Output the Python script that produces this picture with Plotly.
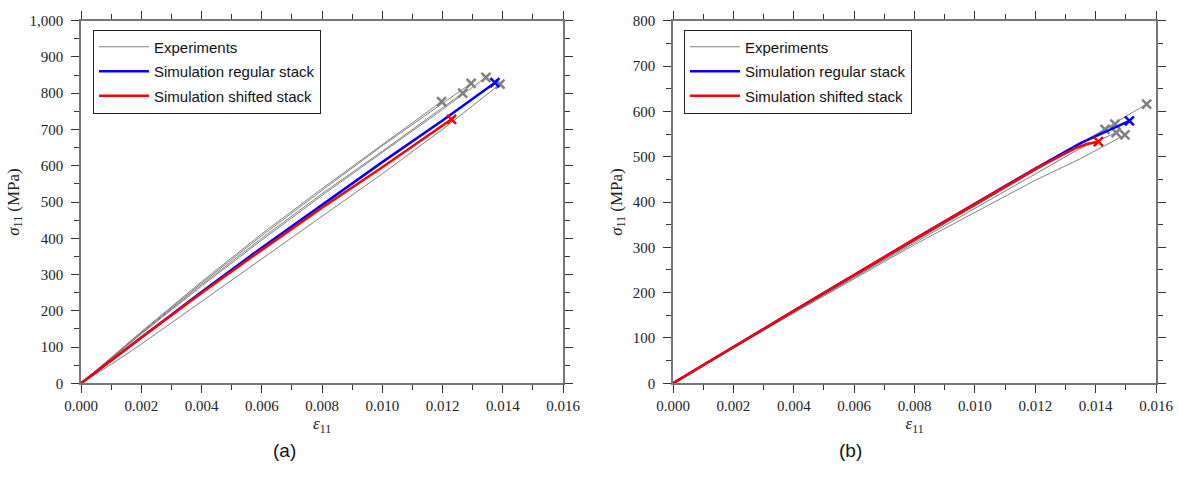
import plotly.graph_objects as go

# ---------------- Data: panel (a) ----------------
a_exp1_x = [0, 0.002, 0.004, 0.006, 0.008, 0.010, 0.01197]
a_exp1_y = [0, 142, 280, 412, 537, 658, 777]
a_exp2_x = [0, 0.002, 0.004, 0.006, 0.008, 0.010, 0.012, 0.01267]
a_exp2_y = [0, 138, 272, 400, 523, 640, 760, 800]
a_exp3_x = [0, 0.002, 0.004, 0.006, 0.008, 0.010, 0.012, 0.01295]
a_exp3_y = [0, 140, 276, 407, 532, 655, 772, 827]
a_exp4_x = [0, 0.002, 0.004, 0.006, 0.008, 0.010, 0.012, 0.01344]
a_exp4_y = [0, 136, 268, 395, 518, 637, 755, 844]
a_exp5_x = [0, 0.001, 0.002, 0.004, 0.006, 0.008, 0.010, 0.012, 0.01391]
a_exp5_y = [0, 52, 108, 225, 343, 460, 578, 700, 825]
a_reg_x = [0, 0.002, 0.004, 0.006, 0.008, 0.010, 0.012, 0.01374]
a_reg_y = [0, 127, 252, 374, 493, 610, 725, 829]
a_shf_x = [0, 0.002, 0.004, 0.006, 0.008, 0.010, 0.0123]
a_shf_y = [0, 126, 249, 368, 484, 596, 728]

# ---------------- Data: panel (b) ----------------
b_exp1_x = [0, 0.004, 0.008, 0.012, 0.01569]
b_exp1_y = [0, 158, 314, 470, 616]
b_exp2_x = [0, 0.004, 0.008, 0.012, 0.01464]
b_exp2_y = [0, 157, 313, 469, 572]
b_exp3_x = [0, 0.004, 0.008, 0.012, 0.01431]
b_exp3_y = [0, 158, 315, 470, 560]
b_exp4_x = [0, 0.004, 0.008, 0.012, 0.01348, 0.01468]
b_exp4_y = [0, 156, 310, 463, 518, 553]
b_exp5_x = [0, 0.004, 0.008, 0.012, 0.01348, 0.01497]
b_exp5_y = [0, 155, 306, 448, 495, 548]
b_reg_x = [0, 0.004, 0.008, 0.012, 0.0135, 0.01512]
b_reg_y = [0, 160, 318, 474, 530, 579]
b_shf_x = [0, 0.004, 0.008, 0.012, 0.0133, 0.0137, 0.01409]
b_shf_y = [0, 160, 318, 473, 518, 528, 533]

legend_names = ["Experiments", "Simulation regular stack", "Simulation shifted stack"]
panel_labels = ["(a)", "(b)"]

GREY = "#808080"
BLUE = "#0000ff"
RED = "#ff0000"

fig = go.Figure()

def add_curve(xs, ys, color, width, name, show, xa, ya, leg, mcolor=None):
    fig.add_trace(go.Scatter(
        x=xs, y=ys, mode="lines", line=dict(color=color, width=width),
        name=name, showlegend=show, legendgroup=name + leg, legend=leg,
        xaxis=xa, yaxis=ya, hoverinfo="skip"))
    fig.add_trace(go.Scatter(
        x=[xs[-1]], y=[ys[-1]], mode="markers",
        marker=dict(symbol="x-thin", size=9, line=dict(color=mcolor or color, width=2.5)),
        showlegend=False, xaxis=xa, yaxis=ya, hoverinfo="skip"))

panels = [
    ("x", "y", "legend",
     [(a_exp1_x, a_exp1_y), (a_exp2_x, a_exp2_y), (a_exp3_x, a_exp3_y), (a_exp4_x, a_exp4_y), (a_exp5_x, a_exp5_y)],
     (a_reg_x, a_reg_y), (a_shf_x, a_shf_y)),
    ("x2", "y2", "legend2",
     [(b_exp1_x, b_exp1_y), (b_exp2_x, b_exp2_y), (b_exp3_x, b_exp3_y), (b_exp4_x, b_exp4_y), (b_exp5_x, b_exp5_y)],
     (b_reg_x, b_reg_y), (b_shf_x, b_shf_y)),
]

for xa, ya, leg, exps, reg, shf in panels:
    for i, (ex, ey) in enumerate(exps):
        add_curve(ex, ey, GREY, 1, legend_names[0], i == 0, xa, ya, leg)
    add_curve(reg[0], reg[1], BLUE, 2.5, legend_names[1], True, xa, ya, leg)
    add_curve(shf[0], shf[1], RED, 2.5, legend_names[2], True, xa, ya, leg)

serif = "Liberation Serif, Times New Roman, serif"
sans = "Liberation Sans, Arial, sans-serif"

def xaxis_cfg(domain, anchor):
    return dict(domain=domain, anchor=anchor, range=[0, 0.016], dtick=0.002, tick0=0,
                tickformat=".3f", showgrid=False, zeroline=False, automargin=False,
                showline=True, linecolor="#777777", linewidth=1.5, mirror="allticks",
                ticks="outside", ticklen=8, tickwidth=1.2, tickcolor="#333333",
                minor=dict(ticks="outside", ticklen=5, dtick=0.001, tickcolor="#333333", tickwidth=1, showgrid=False),
                tickfont=dict(family=serif, size=15, color="#222222"),
                title=dict(text="<i>ε</i><sub>11</sub>", font=dict(family=serif, size=17, color="#222222"), standoff=3))

def yaxis_cfg(domain, anchor, ymax, fmt):
    return dict(domain=domain, anchor=anchor, range=[0, ymax], dtick=100, tick0=0,
                tickformat=fmt, showgrid=False, zeroline=False, automargin=False,
                showline=True, linecolor="#777777", linewidth=1.5, mirror="allticks",
                ticks="outside", ticklen=8, tickwidth=1.2, tickcolor="#333333",
                ticklabelstandoff=5,
                minor=dict(ticks="outside", ticklen=5, dtick=50, tickcolor="#333333", tickwidth=1, showgrid=False),
                tickfont=dict(family=serif, size=15, color="#222222"),
                title=dict(text="<i>σ</i><sub>11</sub> (MPa)", font=dict(family=serif, size=17, color="#222222"), standoff=6))

ydom = [1 - 383.3 / 477, 1 - 20.7 / 477]
legend_style = dict(xanchor="left", yanchor="top", bordercolor="#222222", borderwidth=1,
                    bgcolor="white", font=dict(family=sans, size=15, color="#111111"),
                    tracegroupgap=2, itemwidth=50)
fig.update_layout(
    width=1179, height=477,
    margin=dict(l=0, r=0, t=0, b=0, autoexpand=False),
    paper_bgcolor="white", plot_bgcolor="white",
    xaxis=xaxis_cfg([81 / 1179, 563 / 1179], "y"),
    yaxis=yaxis_cfg(ydom, "x", 1000, ","),
    xaxis2=xaxis_cfg([673 / 1179, 1156 / 1179], "y2"),
    yaxis2=yaxis_cfg(ydom, "x2", 800, "d"),
    legend=dict(x=93 / 1179, y=1 - 29.5 / 477, **legend_style),
    legend2=dict(x=684 / 1179, y=1 - 29.5 / 477, **legend_style),
    showlegend=True,
)

for lbl, xc in zip(panel_labels, [271, 864]):
    fig.add_annotation(text=lbl, x=xc / 1179, y=1 - 463 / 477, xref="paper", yref="paper",
                       showarrow=False, font=dict(family=sans, size=19, color="#111111"))

fig.write_html("out.html", config={"displayModeBar": False},
               post_script="document.body.style.margin='0';document.body.style.overflow='hidden';")
